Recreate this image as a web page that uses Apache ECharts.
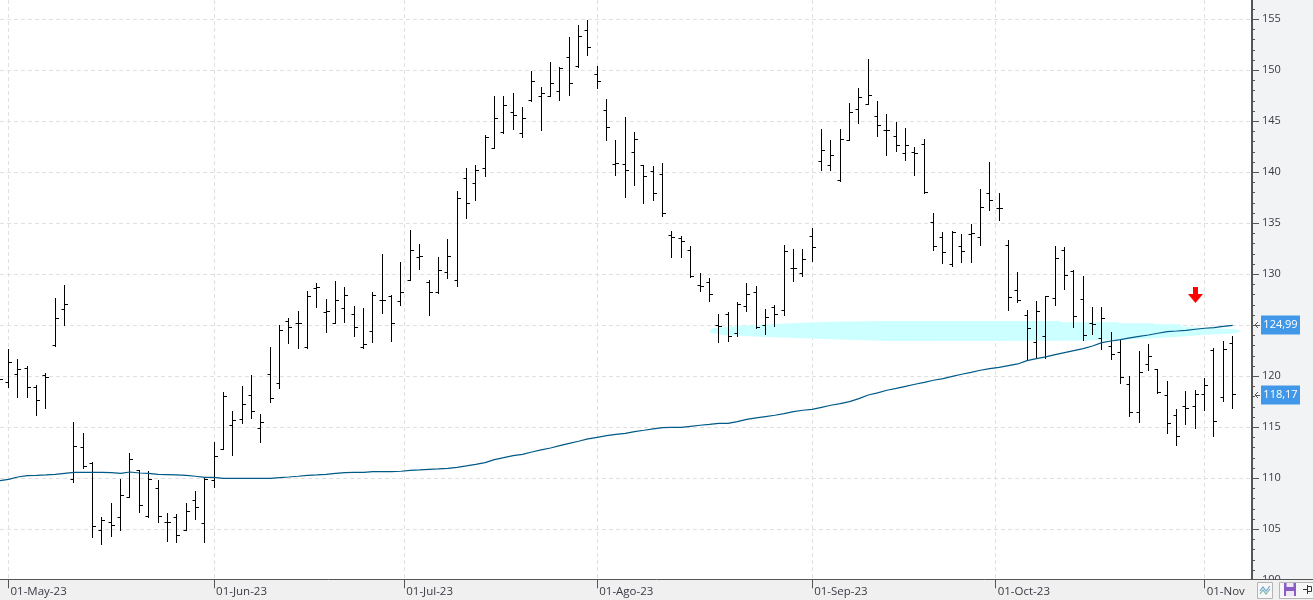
<!DOCTYPE html>
<html>
<head>
<meta charset="utf-8">
<style>html,body{margin:0;padding:0;background:#f2f3f5}#c{width:1313px;height:600px}</style>
<script src="https://cdn.jsdelivr.net/npm/echarts@6/dist/echarts.min.js"></script>
</head>
<body>
<div id="c"></div>
<script>
// Daily OHLC prices, one entry per session; the first session sits just off the left edge.
const opens = [119.0,
119.38,120.2,120.78,118.92,120.1,123.0,126.57,109.84,113.04,111.47,
104.9,105.65,106.18,108.14,110.75,106.24,109.02,105.65,106.18,104.9,
107.81,105.59,109.74,112.84,115.2,115.75,118.14,114.9,120.2,119.31,
125.36,125.2,122.78,128.63,126.27,125.13,126.6,126.01,122.8,124.44,
127.39,127.81,127.29,129.35,131.63,129.15,128.17,130.13,129.44,139.35,
138.95,140.33,142.29,143.95,145.82,143.76,147.0,147.48,147.48,147.97,
151.21,150.33,153.86,149.54,146.01,140.72,140.72,141.99,140.62,140.03,
139.8,133.82,133.5,132.35,128.92,129.22,124.97,126.08,124.18,126.86,
128.24,125.0,126.76,126.47,130.59,130.1,133.73,141.08,140.69,139.22,
143.14,146.18,146.67,145.49,144.05,143.53,141.86,141.96,142.75,135.1,
133.63,130.95,132.75,133.92,133.63,137.94,136.47,132.84,128.43,125.98,
123.33,123.92,127.65,132.35,130.29,127.55,125.2,123.73,122.94,122.35,
119.22,116.47,121.18,120.62,118.14,116.18,117.06,117.06,118.24,122.55,
117.94,123.24];
const highs = [121.0,
122.65,121.67,120.98,119.12,120.29,127.58,128.95,115.49,114.41,111.57,
106.18,107.55,109.9,112.39,110.78,110.69,109.74,106.57,106.47,107.55,
108.73,110.0,113.53,118.43,116.57,119.02,120.1,116.27,122.78,125.0,
125.69,126.37,128.33,129.12,127.55,129.25,128.66,126.8,126.67,128.17,
131.9,127.97,131.11,134.25,132.88,129.35,131.6,133.37,138.07,140.33,
140.62,143.56,147.39,147.48,147.68,146.31,149.93,148.27,150.72,150.23,
153.17,154.44,154.93,150.42,147.09,143.07,145.33,143.95,140.62,140.52,
140.88,134.22,133.73,132.75,130.1,129.61,126.08,126.27,127.25,129.12,
128.82,126.57,126.96,132.84,132.45,132.45,134.51,144.22,143.14,144.22,
146.76,148.24,151.08,146.96,145.69,144.9,144.31,142.45,143.24,135.98,
134.12,134.22,133.95,134.93,138.27,140.98,137.94,133.33,130.2,126.47,
127.35,127.84,132.75,132.65,130.39,129.8,126.76,126.76,124.31,123.5,
119.97,122.42,123.14,120.69,119.51,116.76,118.53,118.63,119.8,122.75,
123.43,123.92];
const lows = [118.0,
118.92,117.91,117.91,116.14,116.83,122.91,124.97,109.58,110.95,104.18,
103.5,104.28,104.9,108.14,106.63,106.14,105.65,103.79,103.69,104.87,
105.95,103.69,109.08,112.78,112.22,115.36,115.85,113.5,117.42,118.79,
123.17,122.71,122.71,126.73,124.28,125.13,125.29,123.88,122.68,123.3,
126.18,123.39,126.96,129.35,130.49,125.98,128.07,129.61,128.82,135.49,
137.25,139.61,142.29,143.76,144.15,143.46,146.9,144.12,147.48,147.06,
147.55,150.23,151.47,148.24,143.14,139.71,137.55,138.73,136.96,137.25,
135.69,131.63,131.63,129.71,128.3,127.32,123.3,123.4,123.89,126.34,
124.71,124.08,124.87,125.95,129.28,129.77,131.24,140.16,140.16,139.12,
143.14,144.8,146.67,143.5,141.63,142.03,141.14,139.67,137.91,132.32,
131.05,130.75,131.14,131.14,132.81,136.24,135.26,126.44,127.22,121.57,
121.86,121.76,126.93,128.5,124.77,123.5,124.08,122.61,121.63,119.28,
116.05,115.46,120.56,118.3,114.38,113.2,115.26,114.87,116.63,114.08,
117.52,116.83];
const closes = [119.64,
121.37,120.62,118.86,117.65,119.9,125.69,127.06,113.14,111.14,105.29,
105.82,105.36,108.3,111.86,107.35,109.9,106.24,105.65,104.41,106.76,
107.16,109.93,112.16,118.0,115.69,117.25,116.57,115.49,117.84,124.51,
124.8,125.13,127.81,128.73,126.34,127.48,127.97,124.74,123.14,127.97,
127.48,125.13,128.17,132.29,131.7,128.17,130.33,131.7,137.48,136.9,
140.13,143.37,145.23,146.5,145.52,145.23,148.86,147.68,148.66,150.13,
148.66,153.27,152.19,148.86,144.44,140.82,140.13,143.17,139.54,137.88,
135.95,133.63,133.24,129.8,128.82,128.04,124.9,123.92,127.06,128.04,
124.8,125.78,126.08,132.25,130.59,131.47,132.65,142.16,141.67,143.24,
145.88,147.35,147.55,144.61,144.12,142.65,142.65,141.86,138.01,132.75,
132.16,134.12,132.25,134.02,136.57,137.25,136.47,127.75,127.42,124.71,
126.37,127.84,131.57,129.9,125.88,124.02,125.1,125.69,122.16,119.9,
116.47,120.39,121.96,118.43,115.39,114.08,116.86,118.24,119.12,115.59,
122.65,118.17];
// Long moving average of the close
const movingAvg = [109.77,
109.9,110.13,110.26,110.29,110.33,110.39,110.49,110.59,110.59,110.59,
110.59,110.56,110.49,110.62,110.52,110.49,110.39,110.36,110.33,110.29,
110.2,110.1,110.1,110.0,110.0,110.0,110.0,110.0,110.0,110.07,
110.13,110.2,110.29,110.33,110.39,110.49,110.56,110.59,110.59,110.65,
110.65,110.65,110.69,110.78,110.82,110.88,110.92,110.98,111.08,111.21,
111.37,111.54,111.83,112.03,112.22,112.35,112.58,112.78,112.97,113.2,
113.43,113.63,113.86,114.02,114.18,114.31,114.41,114.58,114.71,114.85,
114.97,115.0,115.0,115.1,115.2,115.29,115.39,115.39,115.56,115.78,
115.92,116.05,116.18,116.34,116.54,116.67,116.76,116.96,117.16,117.32,
117.52,117.81,118.17,118.37,118.63,118.82,119.02,119.22,119.41,119.61,
119.77,120.0,120.2,120.39,120.59,120.75,120.88,121.05,121.21,121.54,
121.73,121.9,122.12,122.32,122.52,122.71,122.97,123.3,123.46,123.59,
123.76,123.92,124.05,124.22,124.38,124.44,124.51,124.61,124.71,124.77,
124.9,124.99];

// Month markers: position along the session axis and the label printed there
const monthPositions = [1, 23, 43.35, 64, 87, 106.64, 129];
const monthLabels = ['01-May-23', '01-Jun-23', '01-Jul-23', '01-Ago-23', '01-Sep-23', '01-Oct-23', '01-Nov'];

// Hand-drawn highlighter band, as [session, price] outline vertices
const zoneOutline = [[75.96,124.44],[76.39,124.71],[79.28,124.96],[83.2,125.13],[85.35,125.23],[89.23,125.35],
[95.33,125.42],[113.52,125.42],[113.73,125.29],[119.73,125.29],[119.94,125.2],[123.47,125.2],[123.68,125.1],
[126.36,125.1],[126.58,124.86],[132.38,124.61],[132.92,124.44],[132.35,124.22],[128.82,124.05],[126.36,123.88],
[123.47,123.73],[119.73,123.56],[113.52,123.49],[95.33,123.46],[89.23,123.63],[85.4,123.75],[81.42,123.88],
[77.46,124.05],[76.07,124.3]];

// Down arrow annotation: session and price of its tip
const arrowTip = [128.02, 127.19];

const lastIndex = closes.length - 1;
const priceTags = [movingAvg[lastIndex], closes[lastIndex]];

const sessions = closes.map((c, i) => [i, opens[i], highs[i], lows[i], c]);
const crisp = v => Math.round(v - 0.5) + 0.5;

const chart = echarts.init(document.getElementById('c'));
chart.setOption({
  animation: false,
  backgroundColor: '#f2f3f5',
  grid: { left: 0, width: 1251, top: -31.7, bottom: 19.7, outerBoundsMode: 'none', show: true, backgroundColor: '#ffffff', borderWidth: 0 },
  xAxis: {
    type: 'value', min: 0.09, max: 133.96, z: 10,
    offset: -1,
    axisLine: { show: false },
    splitLine: { show: false },
    axisTick: { show: true, length: 9, customValues: monthPositions, lineStyle: { color: '#555555', width: 1 } },
    axisLabel: {
      show: true, customValues: monthPositions, margin: 0,
      align: 'left', color: '#3a3a44', fontFamily: 'Open Sans', fontSize: 11.5,
      verticalAlign: 'top', padding: [6, 0, 0, 2],
      hideOverlap: false, showMinLabel: true, showMaxLabel: true,
      formatter: v => monthLabels[monthPositions.indexOf(v)] || ''
    }
  },
  yAxis: {
    type: 'value', position: 'right', offset: 1, min: 100, max: 160, interval: 5,
    axisLine: { show: true, lineStyle: { color: '#555555', width: 2 } },
    axisTick: { show: true, length: 7, lineStyle: { color: '#555555' } },
    minorTick: { show: true, splitNumber: 5, length: 3, lineStyle: { color: '#555555' } },
    splitLine: { show: true, lineStyle: { color: '#e0e0e0', type: [4, 3], width: 1 } },
    axisLabel: { color: '#3a3a44', fontFamily: 'Open Sans', fontSize: 11, margin: 10 }
  },
  graphic: [
    // Footer strip with its separator and toolbar buttons
    { type: 'rect', z: 5, silent: true, shape: { x: 0, y: 579, width: 1313, height: 21 }, style: { fill: '#f0f0f0' } },
    { type: 'line', z: 6, silent: true, shape: { x1: 0, y1: 579.5, x2: 1313, y2: 579.5 }, style: { stroke: '#555555', lineWidth: 1 } },
    { type: 'rect', z: 6, silent: true, shape: { x: 1257.5, y: 582.5, width: 15, height: 16 }, style: { fill: '#f7f7f7', stroke: '#b5b5b5' } },
    { type: 'polyline', z: 7, silent: true, shape: { points: [[1260,591],[1263,587],[1266,591],[1270,586]] }, style: { fill: 'none', stroke: '#6aa5d8', lineWidth: 1.2 } },
    { type: 'polyline', z: 7, silent: true, shape: { points: [[1260,594],[1263,590],[1266,594],[1270,589]] }, style: { fill: 'none', stroke: '#7fb5a8', lineWidth: 1.2 } },
    { type: 'rect', z: 6, silent: true, shape: { x: 1279.5, y: 582.5, width: 40, height: 16 }, style: { fill: '#f7f7f7', stroke: '#b5b5b5' } },
    { type: 'rect', z: 7, silent: true, shape: { x: 1284, y: 583, width: 12, height: 13 }, style: { fill: '#8a5cc4' } },
    { type: 'rect', z: 8, silent: true, shape: { x: 1286.5, y: 583, width: 7, height: 4 }, style: { fill: '#efe9f7' } },
    { type: 'rect', z: 8, silent: true, shape: { x: 1286, y: 591, width: 8, height: 5 }, style: { fill: '#efe9f7' } },
    { type: 'line', z: 7, silent: true, shape: { x1: 1303, y1: 589.5, x2: 1307, y2: 589.5 }, style: { stroke: '#333333', lineWidth: 1 } },
    { type: 'rect', z: 7, silent: true, shape: { x: 1307.5, y: 586.5, width: 4, height: 5 }, style: { fill: 'none', stroke: '#333333', lineWidth: 1 } },
    { type: 'line', z: 7, silent: true, shape: { x1: 1307.5, y1: 585, x2: 1307.5, y2: 594 }, style: { stroke: '#333333', lineWidth: 1 } }
  ],
  series: [
    {
      // Month gridlines
      type: 'custom', z: 1, silent: true,
      data: monthPositions.map(p => [p]),
      encode: { x: 0 },
      renderItem(params, api) {
        const x = crisp(api.coord([api.value(0), 100])[0]);
        return { type: 'line', shape: { x1: x, y1: 0, x2: x, y2: 579 },
          style: { stroke: '#e0e0e0', lineWidth: 1, lineDash: [4, 3] } };
      }
    },
    {
      // Highlighter band
      type: 'custom', z: 2, silent: true,
      data: [0],
      encode: { x: [], y: [] },
      renderItem(params, api) {
        return { type: 'polygon', shape: { points: zoneOutline.map(p => api.coord(p)) },
          style: { fill: '#ccffff' } };
      }
    },
    {
      // OHLC bars
      type: 'custom', z: 3, silent: true,
      data: sessions,
      encode: { x: 0, y: [1, 2, 3, 4] },
      renderItem(params, api) {
        const i = api.value(0);
        const x = crisp(api.coord([i, 100])[0]);
        const y = v => crisp(api.coord([i, v])[1]);
        const stroke = { stroke: '#000000', lineWidth: 1 };
        return { type: 'group', children: [
          { type: 'line', shape: { x1: x, y1: y(api.value(2)) - 0.5, x2: x, y2: y(api.value(3)) + 0.5 }, style: stroke },
          { type: 'line', shape: { x1: x - 3, y1: y(api.value(1)), x2: x, y2: y(api.value(1)) }, style: stroke },
          { type: 'line', shape: { x1: x, y1: y(api.value(4)), x2: x + 3.5, y2: y(api.value(4)) }, style: stroke }
        ] };
      }
    },
    {
      type: 'line', z: 4, silent: true,
      data: movingAvg.map((v, i) => [i, v]),
      showSymbol: false,
      lineStyle: { color: '#005a87', width: 1.2 }
    },
    {
      // Red down arrow
      type: 'custom', z: 4, silent: true,
      data: [arrowTip],
      encode: { x: 0, y: 1 },
      renderItem(params, api) {
        const [x, y] = api.coord([api.value(0), api.value(1)]);
        return { type: 'polygon', shape: { points: [
          [x, y], [x - 7.5, y - 9], [x - 2.5, y - 9], [x - 2.5, y - 16], [x + 2.5, y - 16], [x + 2.5, y - 9], [x + 7.5, y - 9]
        ] }, style: { fill: '#ff0000' } };
      }
    },
    {
      // Current-value tags on the price axis
      type: 'custom', z: 6, silent: true, clip: false,
      data: priceTags.map(v => [lastIndex, v]),
      encode: { x: 0, y: 1 },
      renderItem(params, api) {
        const y = Math.round(api.coord([lastIndex, api.value(1)])[1]);
        return { type: 'group', children: [
          { type: 'rect', shape: { x: 1261, y: y - 9.5, width: 39, height: 19 }, style: { fill: '#4298e8' } },
          { type: 'text', style: { x: 1280.5, y: y, text: api.value(1).toFixed(2).replace('.', ','),
              fill: '#ffffff', font: '11px "Open Sans"', align: 'center', verticalAlign: 'middle' } },
          { type: 'polyline', shape: { points: [[1258, y - 3], [1255, y], [1258, y + 3]] }, style: { fill: 'none', stroke: '#555555', lineWidth: 1 } },
          { type: 'line', shape: { x1: 1255, y1: y + 0.5, x2: 1260, y2: y + 0.5 }, style: { stroke: '#555555', lineWidth: 1 } }
        ] };
      }
    }
  ]
});
</script>
</body>
</html>
